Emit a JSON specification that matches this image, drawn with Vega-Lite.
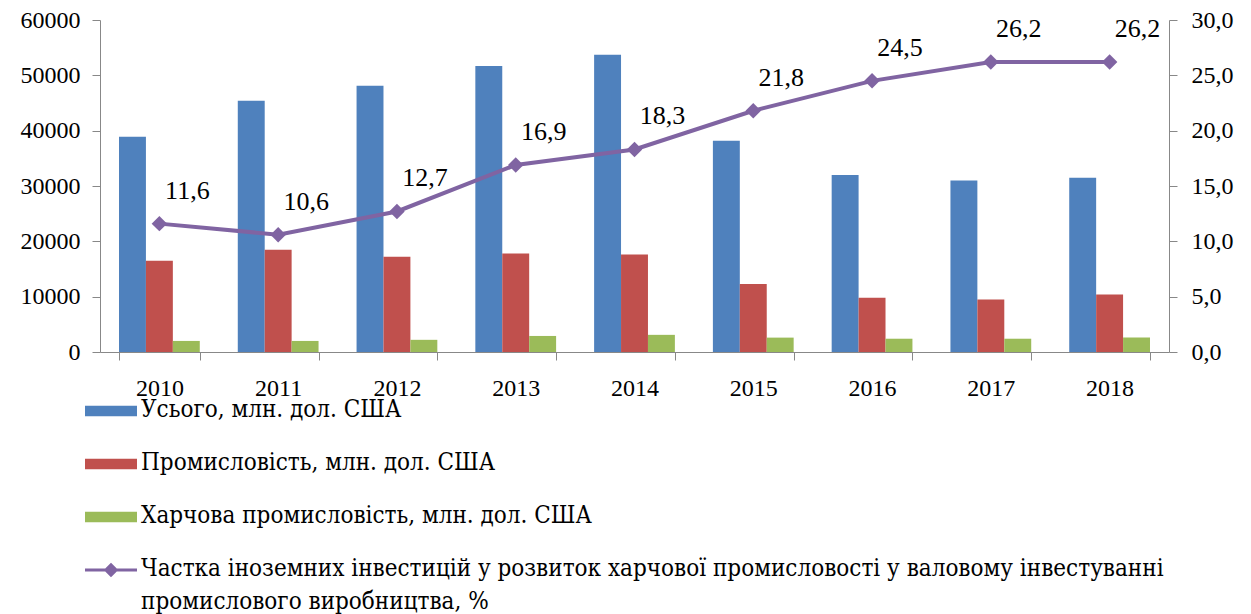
{
  "$schema": "https://vega.github.io/schema/vega-lite/v6.json",
  "width": 1069,
  "height": 332,
  "autosize": {"type": "none"},
  "padding": {"left": 100, "top": 20, "right": 82, "bottom": 262},
  "background": "white",
  "config": {
    "view": {"stroke": null},
    "font": "Liberation Serif",
    "locale": {"number": {"decimal": ",", "thousands": "", "grouping": [3], "currency": ["", ""]}},
    "axis": {"labelFont": "Liberation Serif", "labelFontSize": 24, "labelColor": "#000", "domainColor": "#888", "tickColor": "#888", "tickSize": 8, "grid": false, "title": null}
  },
  "datasets": {
    "bars": [
      {"year": "2010", "series": "Усього, млн. дол. США", "value": 38900},
      {"year": "2010", "series": "Промисловість, млн. дол. США", "value": 16500},
      {"year": "2010", "series": "Харчова промисловість, млн. дол. США", "value": 2000},
      {"year": "2011", "series": "Усього, млн. дол. США", "value": 45400},
      {"year": "2011", "series": "Промисловість, млн. дол. США", "value": 18500},
      {"year": "2011", "series": "Харчова промисловість, млн. дол. США", "value": 2000},
      {"year": "2012", "series": "Усього, млн. дол. США", "value": 48100},
      {"year": "2012", "series": "Промисловість, млн. дол. США", "value": 17200},
      {"year": "2012", "series": "Харчова промисловість, млн. дол. США", "value": 2200},
      {"year": "2013", "series": "Усього, млн. дол. США", "value": 51700},
      {"year": "2013", "series": "Промисловість, млн. дол. США", "value": 17800},
      {"year": "2013", "series": "Харчова промисловість, млн. дол. США", "value": 2900},
      {"year": "2014", "series": "Усього, млн. дол. США", "value": 53700},
      {"year": "2014", "series": "Промисловість, млн. дол. США", "value": 17600},
      {"year": "2014", "series": "Харчова промисловість, млн. дол. США", "value": 3100},
      {"year": "2015", "series": "Усього, млн. дол. США", "value": 38200},
      {"year": "2015", "series": "Промисловість, млн. дол. США", "value": 12300},
      {"year": "2015", "series": "Харчова промисловість, млн. дол. США", "value": 2600},
      {"year": "2016", "series": "Усього, млн. дол. США", "value": 32000},
      {"year": "2016", "series": "Промисловість, млн. дол. США", "value": 9800},
      {"year": "2016", "series": "Харчова промисловість, млн. дол. США", "value": 2400},
      {"year": "2017", "series": "Усього, млн. дол. США", "value": 31000},
      {"year": "2017", "series": "Промисловість, млн. дол. США", "value": 9500},
      {"year": "2017", "series": "Харчова промисловість, млн. дол. США", "value": 2400},
      {"year": "2018", "series": "Усього, млн. дол. США", "value": 31500},
      {"year": "2018", "series": "Промисловість, млн. дол. США", "value": 10400},
      {"year": "2018", "series": "Харчова промисловість, млн. дол. США", "value": 2600}
    ],
    "share": [
      {"year": "2010", "share": 11.6},
      {"year": "2011", "share": 10.6},
      {"year": "2012", "share": 12.7},
      {"year": "2013", "share": 16.9},
      {"year": "2014", "share": 18.3},
      {"year": "2015", "share": 21.8},
      {"year": "2016", "share": 24.5},
      {"year": "2017", "share": 26.2},
      {"year": "2018", "share": 26.2}
    ]
  },
  "encoding": {
    "x": {
      "field": "year", "type": "nominal", "sort": null,
      "scale": {"paddingInner": 0.32, "paddingOuter": 0.16},
      "axis": {"labelAngle": 0, "tickBand": "extent", "labelPadding": 16, "tickSize": 8}
    }
  },
  "layer": [
    {
      "data": {"name": "bars"},
      "mark": {"type": "bar"},
      "encoding": {
        "xOffset": {"field": "series", "type": "nominal", "sort": ["Усього, млн. дол. США", "Промисловість, млн. дол. США", "Харчова промисловість, млн. дол. США"], "scale": {"paddingInner": 0}},
        "y": {"field": "value", "type": "quantitative", "scale": {"domain": [0, 60000]}, "axis": {"orient": "left", "values": [0, 10000, 20000, 30000, 40000, 50000, 60000], "format": "d", "labelPadding": 12}},
        "color": {
          "field": "series", "type": "nominal",
          "scale": {
            "domain": ["Усього, млн. дол. США", "Промисловість, млн. дол. США", "Харчова промисловість, млн. дол. США", "Частка іноземних інвестицій у розвиток харчової промисловості у валовому інвестуванні промислового виробництва, %"],
            "range": ["#4F81BD", "#C0504D", "#9BBB59", "#8064A2"]
          },
          "legend": {
            "orient": "none", "legendX": -15, "legendY": 365, "direction": "vertical",
            "title": null, "labelFont": "DejaVu Serif Condensed, DejaVu Serif", "labelFontSize": 24, "labelColor": "#000",
            "labelLimit": 1200, "rowPadding": 16, "labelOffset": 4, "symbolSize": 2704,
            "labelExpr": "datum.label == 'Частка іноземних інвестицій у розвиток харчової промисловості у валовому інвестуванні промислового виробництва, %' ? ['Частка іноземних інвестицій у розвиток харчової промисловості у валовому інвестуванні', 'промислового виробництва, %'] : datum.label",
            "encode": {
              "symbols": {"update": {
                "shape": {"signal": "indexof(datum.value, 'Частка') == 0 ? 'M-1,-0.06H1V0.06H-1Z M0,-0.28L0.28,0L0,0.28L-0.28,0Z' : 'M-1,-0.2H1V0.2H-1Z'"},
                "fill": {"scale": "color", "field": "value"},
                "stroke": {"value": "transparent"},
                "strokeWidth": {"value": 0}
              }},
              "labels": {"update": {"baseline": {"value": "top"}, "dy": {"value": -13}, "lineHeight": {"value": 33}, "font": {"value": "DejaVu Serif Condensed, DejaVu Serif"}, "fontSize": {"value": 24}, "fill": {"value": "#000"}}}
            }
          }
        }
      }
    },
    {
      "data": {"name": "share"},
      "mark": {"type": "line", "strokeWidth": 4, "color": "#8064A2", "point": {"shape": "diamond", "size": 240, "filled": true, "color": "#8064A2"}},
      "encoding": {
        "y": {"field": "share", "type": "quantitative", "scale": {"domain": [0, 30]}, "axis": {"orient": "right", "values": [0, 5, 10, 15, 20, 25, 30], "format": ".1f", "labelPadding": 14}},
        "color": {"datum": "Частка іноземних інвестицій у розвиток харчової промисловості у валовому інвестуванні промислового виробництва, %"}
      }
    },
    {
      "data": {"name": "share"},
      "mark": {"type": "text", "font": "Liberation Serif", "fontSize": 26, "color": "#000", "dx": 28, "dy": -33},
      "encoding": {
        "y": {"field": "share", "type": "quantitative", "scale": {"domain": [0, 30]}, "axis": null},
        "text": {"field": "share", "type": "quantitative", "format": ".1f"}
      }
    }
  ],
  "resolve": {"scale": {"y": "independent"}}
}
